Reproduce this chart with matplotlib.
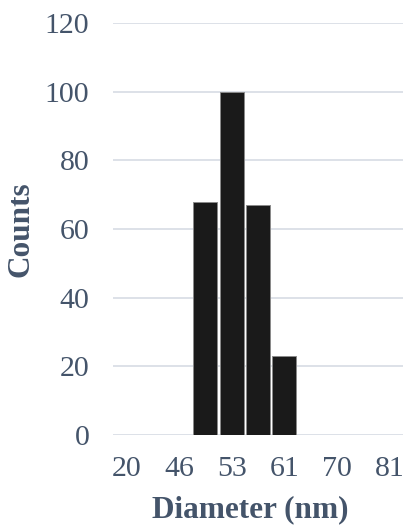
import matplotlib.pyplot as plt

# Particle size distribution (histogram bins on a category axis)
bin_labels = ["20", "", "46", "", "53", "", "61", "", "70", "", "81"]
bar_bins = [3, 4, 5, 6]
counts = [68, 100, 67, 23]

text_color = "#44546A"
grid_color = "#DDE1E8"

plt.rcParams["font.family"] = ["Liberation Serif", "DejaVu Serif"]

fig = plt.figure(figsize=(4.04, 5.27), dpi=100)
ax = fig.add_axes([113 / 404, (527 - 435) / 527, 290 / 404, (435 - 23) / 527])

ax.bar(bar_bins, counts, width=0.92, color="#1a1a1a",
       edgecolor="#8a8a8a", linewidth=0.7, zorder=3)

ax.set_xlim(-0.5, len(bin_labels) - 0.5)
ax.set_ylim(0, 120)
ax.set_yticks(range(0, 121, 20))
ax.set_xticks(range(len(bin_labels)))
ax.set_xticklabels(bin_labels)

ax.grid(axis="y", color=grid_color, linewidth=1.4, zorder=0)
for s in ax.spines.values():
    s.set_visible(False)
ax.tick_params(axis="both", length=0, labelsize=21.5, colors=text_color)
ax.tick_params(axis="y", pad=17)
ax.tick_params(axis="x", pad=15)

ax.set_xlabel("Diameter (nm)", fontsize=22.5, fontweight="bold", color=text_color)
ax.set_ylabel("Counts", fontsize=22.5, fontweight="bold", color=text_color)
ax.xaxis.set_label_coords((250 - 113) / 290, -(510 - 435) / 412)
ax.yaxis.set_label_coords(-(113 - 21) / 290, 0.5)
ax.xaxis.label.set_va("center")
ax.yaxis.label.set_va("center")

fig.savefig("out.png", dpi=100)
